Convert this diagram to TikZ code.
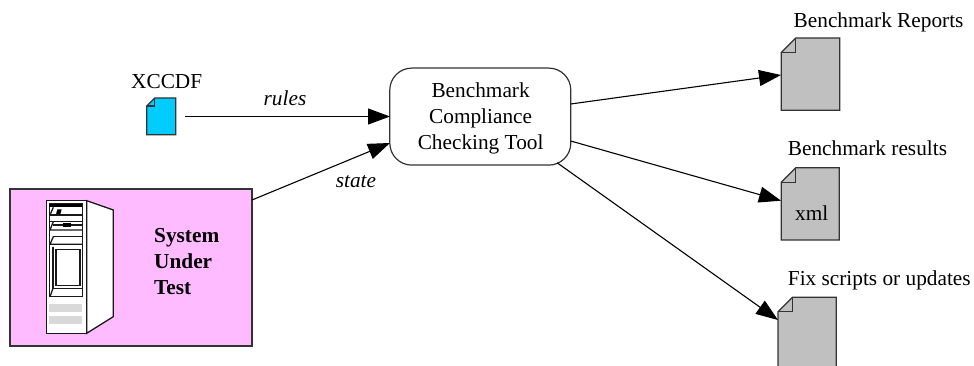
\documentclass[tikz,border=0pt]{standalone}
\usepackage{fontspec}
\setmainfont{Liberation Serif}
\usetikzlibrary{arrows.meta}
\definecolor{pinkfill}{HTML}{FFBBFF}
\definecolor{docgrey}{HTML}{C0C0C0}
\definecolor{doccyan}{HTML}{00CCFF}
\definecolor{bargrey}{HTML}{D9D9D9}
\tikzset{
  lbl/.style={inner sep=0pt,font=\fontsize{21.3}{26}\selectfont,text=black},
  conn/.style={line width=1.1pt,-{Triangle[length=22pt,width=16pt,fill=black]}},
  docline/.style={draw=black!80,line width=1.2pt,line join=miter},
  srv/.style={draw=black!90,line width=1.3pt},
}
\newcommand{\docshape}[6]{% x0 y0 x1 y1 fold fill
  \fill[#6] (#1+#5,#2) -- (#3,#2) -- (#3,#4) -- (#1,#4) -- (#1,#2+#5) -- cycle;
  \draw[docline] (#1+#5,#2) -- (#3,#2) -- (#3,#4) -- (#1,#4) -- (#1,#2+#5) -- cycle;
  \draw[docline] (#1,#2+#5) -- (#1+#5,#2+#5) -- (#1+#5,#2);
}
\begin{document}
\begin{tikzpicture}[x=1pt,y=-1pt]
\useasboundingbox[fill=white] (0,0) rectangle (974,366);
\clip (0,0) rectangle (974,366);
% system under test
\node[draw=black!80,fill=pinkfill,line width=1.1pt,minimum width=242pt,minimum height=157pt,inner sep=0pt] (sut) at (131,267.5) {};
% server
\begin{scope}[shift={(0,180)},x=0.3333pt,y=-0.3333pt]
\filldraw[fill=white,srv] (139,62) rectangle (260,460);
\filldraw[fill=white,srv] (260,62) -- (340,90) -- (340,410) -- (260,460) -- cycle;
\draw[srv] (148,70) rectangle (247,350);
\fill[black] (148,71) rectangle (247,81);
\draw[srv] (148,105) -- (247,105);
\fill[black] (172,88) -- (185,88) -- (181,103) -- (168,103) -- cycle;
\draw[srv] (160,82) -- (150,105);
\draw[srv] (160,125) -- (150,150) -- (247,150);
\draw[srv] (148,125) -- (247,125);
\draw[srv] (160,135) -- (245,135);
\fill[black] (190,130) rectangle (214,141);
\draw[srv] (160,170) -- (150,193) -- (247,193);
\draw[srv] (160,170) -- (247,170);
\draw[srv] (159,200) -- (159,325) -- (247,325);
\draw[srv] (168,208) rectangle (240,317);
\draw[srv] (159,325) -- (150,350);
\fill[bargrey] (147,372) rectangle (246,396);
\fill[bargrey] (147,408) rectangle (246,432);
\end{scope}
\node[lbl,font=\fontsize{21.3}{26}\selectfont\bfseries,align=left,anchor=north west] (sutlabel) at (154,228) {System\\Under\\Test};
% xccdf
\docshape{146.7}{98}{175.7}{134.7}{8}{doccyan}
\node[lbl,anchor=base] (xccdflabel) at (166.7,89) {XCCDF};
\coordinate (xccdfout) at (185,116.5);
% tool
\node[draw=black!80,fill=white,line width=1.2pt,rounded corners=22pt,minimum width=181pt,minimum height=97pt,inner sep=0pt] (tool) at (480.3,116.6) {};
\node[lbl,align=center] (toollabel) at (480.6,118.6) {Benchmark\\Compliance\\Checking Tool};
% documents
\docshape{781.3}{38}{839.7}{110.3}{14.5}{docgrey}
\docshape{781.3}{167.7}{839.3}{240}{14.5}{docgrey}
\docshape{778}{297.3}{836.3}{370}{14.5}{docgrey}
\node[lbl,anchor=base west] (replabel) at (793.5,28) {Benchmark Reports};
\node[lbl,anchor=base west] (reslabel) at (787.7,155.7) {Benchmark results};
\node[lbl,anchor=base west] (fixlabel) at (787.7,285.6) {Fix scripts or updates};
\node[lbl,anchor=base] (xmllabel) at (811.7,220) {xml};
% connector ends
\coordinate (sutout) at (252,200);
\coordinate (toolstate) at (390,143);
\coordinate (toolrules) at (390,116.5);
\coordinate (toolr) at (570.7,104);
\coordinate (toolres) at (570.7,141);
\coordinate (toolfix) at (557,162.7);
\coordinate (repin) at (781,75);
\coordinate (resin) at (781,200.7);
\coordinate (fixin) at (778,320);
\draw[conn] (xccdfout) -- (toolrules);
\draw[conn] (sutout) -- (toolstate);
\draw[conn] (toolr) -- (repin);
\draw[conn] (toolres) -- (resin);
\draw[conn] (toolfix) -- (fixin);
\node[lbl,anchor=base,font=\fontsize{21.3}{26}\selectfont\itshape] (ruleslabel) at (285,106) {rules};
\node[lbl,anchor=base,font=\fontsize{21.3}{26}\selectfont\itshape] (statelabel) at (356,188) {state};
\end{tikzpicture}
\end{document}
